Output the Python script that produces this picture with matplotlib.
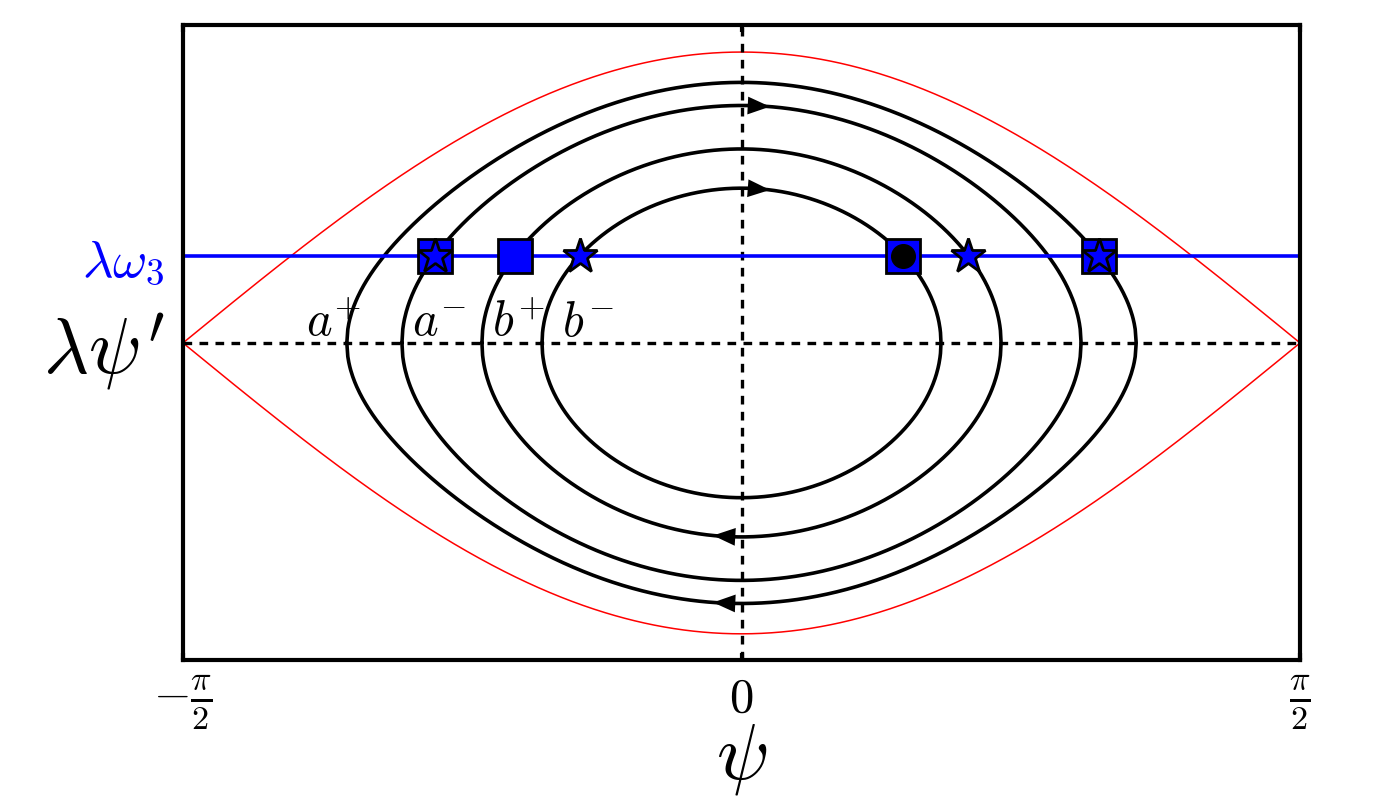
import numpy as np
import matplotlib.pyplot as plt

plt.rcParams['mathtext.fontset'] = 'cm'

# turning points (psi where orbit crosses lambda*psi' = 0)
turn_psi = [1.110, 0.955, 0.730, 0.561]
sep_psi = np.pi / 2          # red bounding curve
omega3 = 0.30                # blue level lambda*omega_3

# markers on the blue line
square_psi = [-0.862, -0.638, 0.455, 1.005]
star_psi = [-0.862, -0.455, 0.638, 1.005]
circle_psi = [0.455]

# labels just above the psi axis
lab_txt = [r'$a^{+}$', r'$a^{-}$', r'$b^{+}$', r'$b^{-}$']
lab_psi = [-1.225, -0.928, -0.703, -0.506]

# arrows: (orbit index, top/bottom, direction)
arrows = [(1, 1, 1), (3, 1, 1), (2, -1, -1), (0, -1, -1)]


def orbit(p0, n=800):
    psi = np.linspace(-p0, p0, n)
    v = np.sqrt(np.clip(np.sin(p0) ** 2 - np.sin(psi) ** 2, 0, None))
    return psi, v


fig = plt.figure(figsize=(14, 8), dpi=100)
ax = fig.add_axes([0.1307, 0.175, 0.7979, 0.79375])

# red separatrix
psi = np.linspace(-sep_psi, sep_psi, 800)
ax.plot(psi, np.cos(psi), color='red', lw=1.1)
ax.plot(psi, -np.cos(psi), color='red', lw=1.1)

# dashed axes
ax.axhline(0, color='k', ls=(0, (2.6, 2.2)), lw=2.4)
ax.axvline(0, color='k', ls=(0, (2.6, 2.2)), lw=2.4)

# closed orbits
for p0 in turn_psi:
    x, v = orbit(p0)
    ax.plot(np.r_[x, x[::-1]], np.r_[v, -v[::-1]], color='k', lw=2.6,
            solid_capstyle='round')

# arrow heads
for idx, side, d in arrows:
    p0 = turn_psi[idx]
    tip = 0.080 * d
    base = 0.018 * d
    yt = side * np.sqrt(np.sin(p0) ** 2 - np.sin(tip) ** 2)
    yb = side * np.sqrt(np.sin(p0) ** 2 - np.sin(base) ** 2)
    ax.annotate('', xy=(tip, yt), xytext=(base, yb),
                arrowprops=dict(arrowstyle='-|>,head_length=0.8,head_width=0.32',
                                mutation_scale=20, color='k', lw=0,
                                shrinkA=0, shrinkB=0))

# blue level
ax.axhline(omega3, color='#0000ff', lw=2.6)

ax.plot(square_psi, [omega3] * len(square_psi), 's', ms=25, mfc='#0000ff',
        mec='k', mew=2, ls='none')
ax.plot(star_psi, [omega3] * len(star_psi), '*', ms=26, mfc='#0000ff',
        mec='k', mew=2, ls='none')
ax.plot(circle_psi, [omega3] * len(circle_psi), 'o', ms=17, mfc='k',
        mec='k', ls='none')

for t, p in zip(lab_txt, lab_psi):
    ax.text(p, 0.025, t, fontsize=35, ha='left', va='baseline')

ax.set_xlim(-np.pi / 2, np.pi / 2)
ax.set_ylim(-1.09, 1.093)

ax.set_xticks([-np.pi / 2, 0, np.pi / 2])
ax.set_xticklabels([r'$-\frac{\pi}{2}$', r'$0$', r'$\frac{\pi}{2}$'], fontsize=35)
ax.set_yticks([0, omega3])
ax.set_yticklabels([r"$\lambda\psi'$", r'$\lambda\omega_3$'])
ylabs = ax.get_yticklabels()
ylabs[0].set_fontsize(56)
ylabs[1].set_fontsize(38)
ylabs[1].set_color('#0000ff')
ax.tick_params(direction='in', length=5, width=3, top=True, right=True, pad=10)
ax.tick_params(axis='y', length=0, pad=13)
ax.set_xlabel(r'$\psi$', fontsize=56, labelpad=-8)

for s in ax.spines.values():
    s.set_linewidth(3)

fig.savefig('out.png', dpi=100)
